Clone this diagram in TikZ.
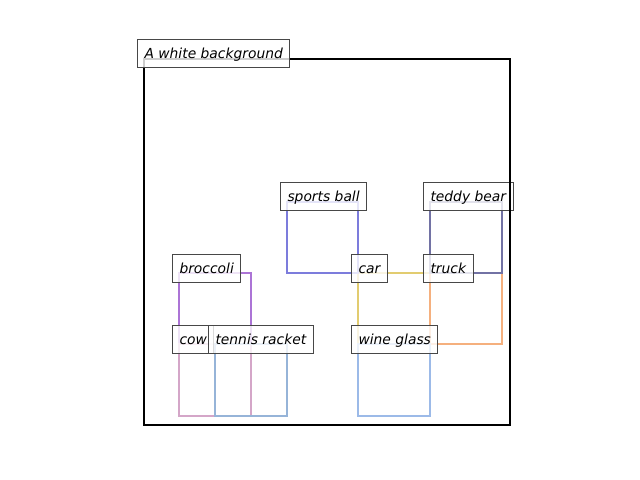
\documentclass[tikz,border=0pt]{standalone}
\usepackage{fontspec}
\setmainfont{DejaVu Sans}
\usepackage{tikz}

\definecolor{ballcol}{RGB}{124,124,220}
\definecolor{teddycol}{RGB}{114,114,164}
\definecolor{broccolicol}{RGB}{172,116,214}
\definecolor{cowcol}{RGB}{212,166,200}
\definecolor{racketcol}{RGB}{150,180,216}
\definecolor{carcol}{RGB}{226,204,112}
\definecolor{truckcol}{RGB}{245,176,126}
\definecolor{winecol}{RGB}{156,186,232}

\begin{document}
\begin{tikzpicture}[x=1bp, y=-1bp,
  bbox/.style={line width=2.2bp},
  tag/.style={draw=black!72, line width=1bp, fill=white, fill opacity=0.8, text opacity=1,
    inner xsep=7bp, inner ysep=7bp, text height=11.9bp, text depth=1.8bp,
    font=\fontsize{13.9}{16}\selectfont\itshape, anchor=south west}]
  \fill[white] (0,0) rectangle (640,480);
  \useasboundingbox (0,0) rectangle (640,480);

  % boxes
  \draw[bbox, carcol]      (358,273) rectangle (430,344);
  \draw[bbox, truckcol]    (430,273) rectangle (502,344);
  \draw[bbox, teddycol]    (430,202) rectangle (502,273);
  \draw[bbox, ballcol]     (287,202) rectangle (358,273);
  \draw[bbox, broccolicol] (179,273) rectangle (251,344);
  \draw[bbox, cowcol]      (179,344) rectangle (251,416);
  \draw[bbox, racketcol]   (215,344) rectangle (287,416);
  \draw[bbox, winecol]     (358,344) rectangle (430,416);

  % labels
  \node[tag] (ballTag)     at (280,211) {sports ball};
  \node[tag] (teddyTag)    at (423,211) {teddy bear};
  \node[tag] (broccoliTag) at (172,283) {broccoli};
  \node[tag] (carTag)      at (351,283) {car};
  \node[tag] (truckTag)    at (423,283) {truck};
  \node[tag] (cowTag)      at (172,354) {cow};
  \node[tag] (racketTag)   at (208,354) {tennis racket};
  \node[tag] (wineTag)     at (351,354) {wine glass};

  \draw[line width=2bp] (144,59) rectangle (510,425);
  \node[tag] (bgTag) at (137,68) {A white background};
\end{tikzpicture}
\end{document}
